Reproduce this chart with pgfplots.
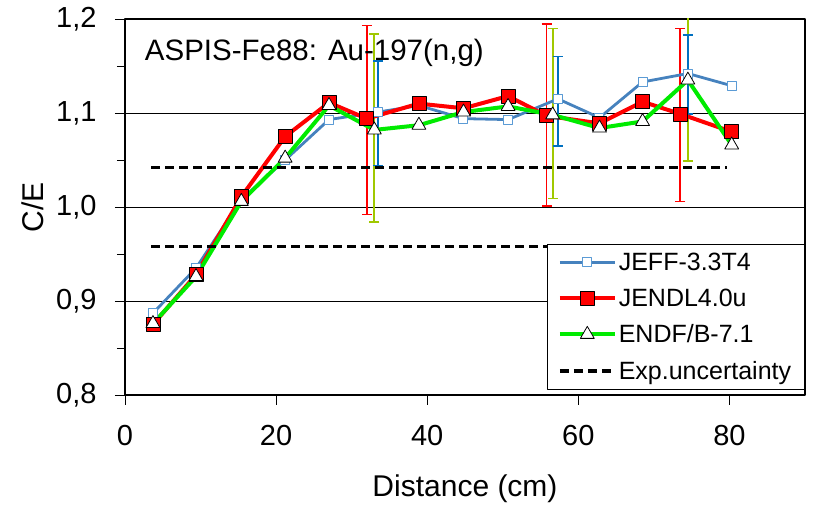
\documentclass[border=0pt]{standalone}
\usepackage{fontspec}
\setmainfont{Liberation Sans}
\usepackage{pgfplots}
\pgfplotsset{compat=1.18}
\definecolor{jeffline}{RGB}{70,130,190}
\definecolor{jeffmark}{RGB}{91,155,213}
\definecolor{ebblue}{RGB}{0,112,192}
\definecolor{ebolive}{RGB}{160,200,0}
\definecolor{endfgreen}{RGB}{0,235,0}
\begin{document}
\begin{tikzpicture}
\begin{axis}[
  scale only axis, width=680pt, height=376pt,
  xmin=0, xmax=90, ymin=0.8, ymax=1.2,
  xtick={0,20,40,60,80},
  ytick={0.8,0.9,1.0,1.1,1.2},
  minor ytick={0.85,0.95,1.05,1.15},
  tick align=outside,
  xtick pos=left, ytick pos=left,
  major tick length=10pt, minor tick length=8pt,
  tick style={black, line width=0.8pt},
  ymajorgrids, grid style={black, line width=0.6pt},
  axis line style={line width=1.5pt},
  /pgf/number format/assume math mode=true,
  ticklabel style={font=\fontsize{29}{34}\selectfont},
  yticklabel style={xshift=-15pt, /pgf/number format/.cd, fixed, fixed zerofill, precision=1, use comma},
  xticklabel style={yshift=-17pt},
  xlabel={Distance (cm)}, ylabel={C/E},
  label style={font=\fontsize{30}{36}\selectfont},
  xlabel style={at={(axis description cs:0.5,0)}, anchor=base, yshift=-101pt},
  ylabel style={at={(axis description cs:-0.1353,0.5)}, anchor=center},
  legend style={at={(0.999,0.016)}, anchor=south east, draw=black,
    font=\fontsize{25}{30}\selectfont, row sep=13pt, inner xsep=11pt, inner ysep=6pt},
  legend cell align=left,
  legend image code/.code={\draw[mark repeat=2, mark phase=2] plot coordinates {(0pt,0pt) (27.5pt,0pt) (55pt,0pt)};},
  line join=round,
]
% error bars
\addplot[forget plot, draw=red, only marks, mark=none,
  error bars/.cd, y dir=both, y explicit,
  error bar style={line width=1.7pt, red},
  error mark options={rotate=90, mark size=5pt, line width=1.7pt, red}]
  coordinates {(32.0,1.0925) +- (0,0.1005) (55.8,1.098) +- (0,0.097) (73.5,1.098) +- (0,0.092)};
\addplot[forget plot, draw=ebolive, only marks, mark=none,
  error bars/.cd, y dir=both, y explicit,
  error bar style={line width=1.7pt, ebolive},
  error mark options={rotate=90, mark size=5pt, line width=1.7pt, ebolive}]
  coordinates {(33.0,1.084) +- (0,0.100) (56.6,1.0995) +- (0,0.0905) (74.5,1.135) +- (0,0.086)};
\addplot[forget plot, draw=ebblue, only marks, mark=none,
  error bars/.cd, y dir=both, y explicit,
  error bar style={line width=1.7pt, ebblue},
  error mark options={rotate=90, mark size=5pt, line width=1.7pt, ebblue}]
  coordinates {(33.5,1.0995) +- (0,0.0555) (57.3,1.1125) +- (0,0.0475) (74.5,1.141) +- (0,0.042)};
% JEFF
\addplot[color=jeffline, line width=2.8pt, mark=square*, mark size=4.5pt,
  mark options={fill=white, draw=jeffmark, line width=1pt}]
  coordinates {(3.7,0.887) (9.4,0.935) (15.4,1.008) (21.2,1.050) (27.0,1.093) (33.5,1.101) (38.9,1.108) (44.8,1.094) (50.7,1.093) (57.3,1.115) (62.8,1.095) (68.5,1.133) (74.5,1.142) (80.3,1.129)};
% JENDL
\addplot[color=red, line width=4pt, mark=square*, mark size=7pt,
  mark options={fill=red, draw=black, line width=0.8pt}]
  coordinates {(3.7,0.875) (9.4,0.928) (15.4,1.011) (21.2,1.075) (27.0,1.111) (32.0,1.094) (38.9,1.110) (44.8,1.105) (50.7,1.118) (55.8,1.097) (62.8,1.089) (68.5,1.112) (73.5,1.099) (80.3,1.080)};
% ENDF
\addplot[color=endfgreen, line width=4pt, mark=triangle*, mark size=8pt,
  mark options={fill=white, draw=black, line width=0.8pt}]
  coordinates {(3.7,0.876) (9.4,0.926) (15.4,1.006) (21.2,1.052) (27.0,1.108) (33.0,1.082) (38.9,1.087) (44.8,1.101) (50.7,1.107) (56.6,1.098) (62.8,1.084) (68.5,1.091) (74.5,1.135) (80.3,1.066)};
% Exp uncertainty
\addplot[black, line width=3.2pt, dash pattern=on 9pt off 5pt]
  coordinates {(3.5,1.042) (79.7,1.042)};
\addplot[forget plot, black, line width=3.2pt, dash pattern=on 9pt off 5pt]
  coordinates {(3.5,0.958) (79.7,0.958)};
\legend{JEFF-3.3T4, JENDL4.0u, ENDF/B-7.1, Exp.uncertainty}
\node[anchor=base west, inner sep=0pt, font=\fontsize{29.5}{35}\selectfont] at (rel axis cs:0.029,0.889) {ASPIS-Fe88: Au-197(n,g)};
\end{axis}
\pgfresetboundingbox
\path ([shift={(-125pt,-110pt)}]current axis.south west) rectangle ([shift={(13pt,19pt)}]current axis.north east);
\end{tikzpicture}
\end{document}
